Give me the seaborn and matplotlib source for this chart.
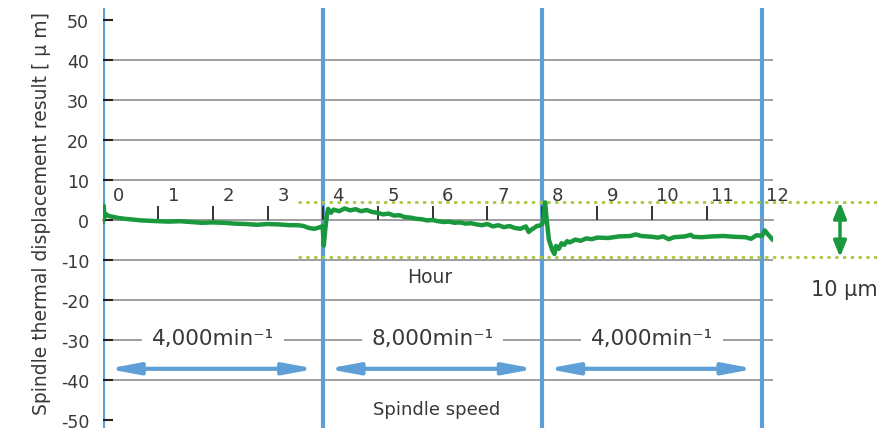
import matplotlib
matplotlib.use("Agg")
import matplotlib.pyplot as plt
import pandas as pd
import seaborn as sns

# Spindle thermal displacement over a 12 h run at alternating spindle speeds
hours = [
    0.0, 0.01, 0.03, 0.05, 0.1, 0.18, 0.28, 0.4, 0.55, 0.7, 0.85, 1.0, 1.2, 1.4,
    1.6, 1.8, 2.0, 2.2, 2.4, 2.6, 2.8, 3.0, 3.2, 3.4, 3.55, 3.65, 3.75, 3.85,
    3.95, 3.99,
    4.0, 4.02, 4.05, 4.08, 4.1, 4.15, 4.2, 4.3, 4.4, 4.5, 4.6, 4.7, 4.8, 4.9,
    5.0, 5.1, 5.2, 5.3, 5.4, 5.5, 5.6, 5.7, 5.8, 5.9, 6.0, 6.1, 6.2, 6.3, 6.4,
    6.5, 6.6, 6.7, 6.8, 6.9, 7.0, 7.1, 7.2, 7.3, 7.4, 7.5, 7.6, 7.7, 7.75,
    7.8, 7.85, 7.9, 7.95, 8.0,
    8.02, 8.05, 8.08, 8.12, 8.18, 8.22, 8.25, 8.3, 8.35, 8.4, 8.45, 8.5, 8.6,
    8.7, 8.8, 8.9, 9.0, 9.2, 9.4, 9.6, 9.7, 9.8, 10.0, 10.1, 10.2, 10.3, 10.4,
    10.6, 10.7, 10.75, 10.9, 11.1, 11.3, 11.5, 11.7, 11.8, 11.9, 12.0, 12.05,
    12.12, 12.2,
]
displacement = [
    -0.5, 3.6, 0.8, 1.5, 1.0, 0.8, 0.5, 0.3, 0.1, -0.1, -0.2, -0.3, -0.4, -0.3,
    -0.5, -0.7, -0.6, -0.7, -0.9, -1.0, -1.2, -1.0, -1.1, -1.3, -1.3, -1.5,
    -2.0, -2.2, -1.8, -1.6,
    -1.5, -6.4, -2.0, 1.5, 2.8, 1.8, 2.6, 2.2, 2.9, 2.4, 2.7, 2.2, 2.5, 2.0,
    1.8, 1.4, 1.6, 1.1, 1.2, 0.7, 0.6, 0.3, 0.2, -0.1, 0.0, -0.3, -0.5, -0.4,
    -0.7, -0.6, -0.9, -0.8, -1.1, -1.3, -1.0, -1.6, -1.3, -1.8, -1.5, -2.0,
    -2.2, -1.6, -3.0, -2.4, -2.0, -1.5, -1.4, -1.0,
    0.5, 4.4, 0.0, -5.0, -7.5, -8.5, -6.5, -7.2, -5.8, -6.2, -5.3, -5.6, -4.9,
    -5.2, -4.6, -4.8, -4.4, -4.5, -4.1, -4.0, -3.6, -4.0, -4.2, -4.4, -4.1,
    -4.8, -4.3, -4.1, -3.7, -4.2, -4.3, -4.1, -4.0, -4.2, -4.3, -4.7, -3.8,
    -4.0, -2.6, -3.8, -5.0,
]

hour_labels = [str(h) for h in range(13)]
y_ticks = [50, 40, 30, 20, 10, 0, -10, -20, -30, -40, -50]
phase_bounds = [0, 4, 8, 12]
phase_speeds = ["4,000", "8,000", "4,000"]
band_top, band_bottom = 4.5, -9.3

BLUE = "#5d9fd6"
GREEN = "#1a983d"
DOT = "#a9c93e"
GRID = "#8e8e8e"
TXT = "#383838"

sns.set_theme(style="white")
plt.rcParams["font.family"] = ["DejaVu Sans"]
plt.rcParams["axes.unicode_minus"] = False

fig = plt.figure(figsize=(8.78, 4.31), dpi=100)
ax = fig.add_axes([103 / 878, 2 / 431, 670 / 878, 420 / 431])
ax.set_xlim(0, 12.2)
ax.set_ylim(-52, 53)
ax.set_axisbelow(False)

df = pd.DataFrame({"hour": hours, "disp": displacement})

# horizontal grid
for v in [40, 30, 20, 10, -10, -20, -30, -40]:
    ax.axhline(v, color=GRID, lw=1.2, zorder=1)

# hour axis along zero
for side in ["top", "right", "left"]:
    ax.spines[side].set_visible(False)
ax.spines["bottom"].set_position(("data", 0))
ax.spines["bottom"].set_color(GRID)
ax.spines["bottom"].set_linewidth(1.2)
ax.set_xticks(range(1, 12))
ax.tick_params(axis="x", bottom=True, direction="in", length=10, width=1.4,
               color="#333333", labelbottom=False)
for h, lab in enumerate(hour_labels):
    ax.text(h + 0.28, 6.2, lab, ha="center", va="center", fontsize=13,
            color=TXT, zorder=3)

ax.set_yticks(y_ticks)
ax.set_yticklabels([str(t) for t in y_ticks])
ax.tick_params(axis="y", left=True, direction="in", length=7, width=1.5,
               color="#222222", pad=10, labelsize=12.5, labelcolor=TXT)

# phase boundaries
for b in phase_bounds:
    ax.axvline(b, color=BLUE, lw=3, zorder=2)

# tolerance band
for yv in (band_top, band_bottom):
    ax.plot([3.55, 14.3], [yv, yv], color=DOT, lw=2, ls=(0, (1.2, 1.6)),
            clip_on=False, zorder=2)
ax.annotate("", xy=(13.42, band_top), xytext=(13.42, band_bottom),
            arrowprops=dict(arrowstyle="<|-|>,head_length=0.8,head_width=0.32",
                            color=GREEN, lw=2.5, mutation_scale=12,
                            shrinkA=0, shrinkB=0),
            annotation_clip=False)
ax.text(13.5, -17.3, "10 μm", ha="center", va="center", fontsize=15,
        color=TXT, clip_on=False)

# displacement trace
sns.lineplot(data=df, x="hour", y="disp", ax=ax, color=GREEN, lw=3.2,
             sort=False, zorder=4, legend=False)
ax.set_xlabel("")
ax.set_ylabel("")

# spindle speed phases
for i, spd in enumerate(phase_speeds):
    a, b = phase_bounds[i], phase_bounds[i + 1]
    ax.text((a + b) / 2, -29.5, spd + "min⁻¹", ha="center", va="center",
            fontsize=15.5, color=TXT, zorder=3,
            bbox=dict(fc="white", ec="none", pad=7))
    ax.annotate("", xy=(a + 0.08, -37.2), xytext=(b - 0.13, -37.2),
                arrowprops=dict(arrowstyle="<|-|>,head_length=1.5,head_width=0.28",
                                color=BLUE, lw=3, mutation_scale=12,
                                shrinkA=0, shrinkB=0))

ax.text(5.95, -14.2, "Hour", ha="center", va="center", fontsize=13.5, color=TXT)
ax.text(6.08, -47.2, "Spindle speed", ha="center", va="center", fontsize=13,
        color=TXT)

fig.text(42 / 878, 0.505, "Spindle thermal displacement result [ μ m]",
         rotation=90, ha="center", va="center", fontsize=13.5, color=TXT)

fig.savefig("out.png", dpi=100, facecolor="white")
